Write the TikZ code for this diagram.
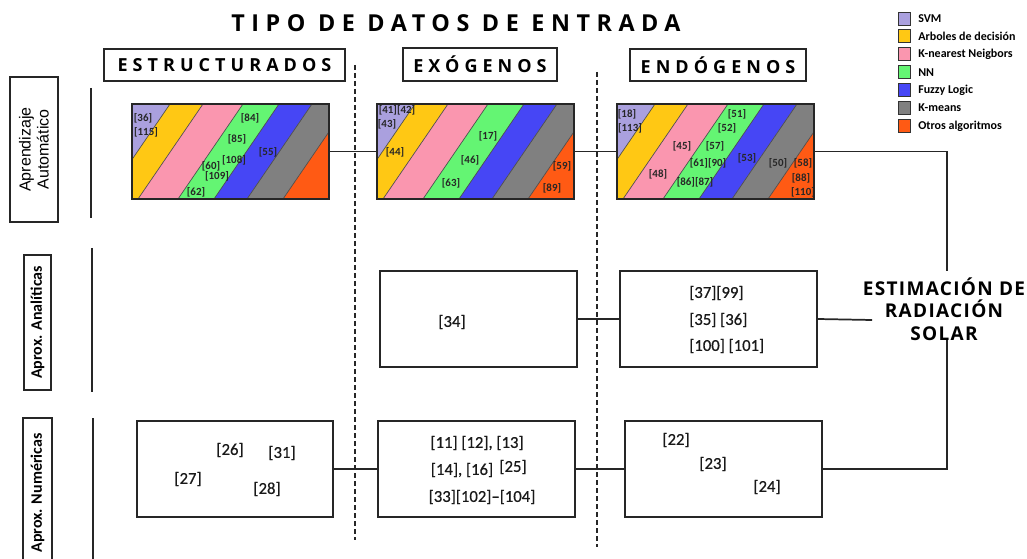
\documentclass[tikz,border=0pt]{standalone}
\usepackage{fontspec}
\setmainfont{Carlito}
\newfontfamily\titfont[LetterSpace=28]{Open Sans}
\newfontfamily\hdfont[LetterSpace=28]{Open Sans}
\newfontfamily\estfont[LetterSpace=7]{Open Sans}
\newfontfamily\arialfont{Liberation Sans}
\newfontfamily\reffont[FakeBold=0.6]{Carlito}
\definecolor{cSVM}{RGB}{170,160,222}
\definecolor{cArb}{RGB}{255,200,20}
\definecolor{cKnn}{RGB}{250,150,175}
\definecolor{cNN}{RGB}{100,245,115}
\definecolor{cFz}{RGB}{70,70,245}
\definecolor{cKm}{RGB}{128,128,128}
\definecolor{cOt}{RGB}{255,90,20}
\tikzset{
 sbox/.style={draw=black!85, line width=1.3pt, rectangle, inner sep=0pt},
 link/.style={draw=black!85, line width=1.3pt},
 dashsep/.style={draw=black!85, line width=1.3pt, dash pattern=on 3.75pt off 2.25pt},
 refx/.style={font=\reffont\fontsize{12.5pt}{14pt}\selectfont, inner sep=0pt, text=black!90},
 sref/.style={font=\bfseries\fontsize{8.2pt}{9pt}\selectfont, inner sep=0pt, text=black!85},
 stripeline/.style={draw=black!70, line width=0.5pt},
 legsq/.style={draw=black!80, line width=0.6pt, minimum width=9pt, minimum height=9.75pt, inner sep=0pt},
 legtx/.style={font=\bfseries\fontsize{9pt}{10pt}\selectfont, anchor=west, inner sep=0pt},
 hdtext/.style={font=\hdfont\bfseries\fontsize{13.5pt}{15pt}\selectfont},
}
\newcommand{\mystripes}[2]{%
 \begin{scope}[shift={(#1,#2)}]
 \clip (0,0) rectangle (197,95);
 \fill[cSVM] (-100,0) -- (38,0) -- (-27,95) -- (-100,95) -- cycle;
 \fill[cArb] (38,0) -- (71,0) -- (6,95) -- (-27,95) -- cycle;
 \fill[cKnn] (71,0) -- (111,0) -- (46,95) -- (6,95) -- cycle;
 \fill[cNN] (111,0) -- (147,0) -- (82,95) -- (46,95) -- cycle;
 \fill[cFz] (147,0) -- (180,0) -- (115,95) -- (82,95) -- cycle;
 \fill[cKm] (180,0) -- (216,0) -- (151,95) -- (115,95) -- cycle;
 \fill[cOt] (216,0) -- (300,0) -- (300,95) -- (151,95) -- cycle;
 \foreach \a in {38,71,111,147,180,216} \draw[stripeline] (\a,0) -- (\a-65,95);
 \end{scope}}
\begin{document}
\begin{tikzpicture}[x=0.75pt,y=-0.75pt]
\useasboundingbox (0,0) rectangle (1027,559);
% title
\node[font=\titfont\bfseries\fontsize{17.5pt}{20pt}\selectfont, inner sep=0pt] (title) at (456,23) {TIPO DE DATOS DE ENTRADA};
% headers
\node[sbox, hdtext, minimum width=180.75pt, minimum height=24pt] (h1) at (224.5,65) {ESTRUCTURADOS};
\node[sbox, hdtext, minimum width=115.5pt, minimum height=24.75pt] (h2) at (480,64.5) {EXÓGENOS};
\node[sbox, hdtext, minimum width=132pt, minimum height=24pt] (h3) at (718,65) {ENDÓGENOS};
% dashed separators
\coordinate (d1a) at (355,65); \coordinate (d1b) at (355,540);
\coordinate (d2a) at (597,72); \coordinate (d2b) at (597,547);
\draw[dashsep] (d1a) -- (d1b);
\draw[dashsep] (d2a) -- (d2b);
% legend
\foreach \c/\t [count=\i] in {cSVM/SVM, cArb/Arboles de decisión, cKnn/K-nearest Neigbors, cNN/NN, cFz/Fuzzy Logic, cKm/K-means, cOt/Otros algoritmos}{
  \node[legsq, fill=\c] (lq\i) at (904,{18.5+(\i-1)*17.9}) {};
  \node[legtx] (lt\i) at (918,{18.5+(\i-1)*17.9}) {\t};
}
% left labels
\node[sbox, rotate=90, minimum width=108.75pt, minimum height=36pt, align=center, font=\arialfont\fontsize{12pt}{13.5pt}\selectfont] (lab1) at (34,149.5) {Aprendizaje\\Automático};
\node[sbox, rotate=90, minimum width=101.25pt, minimum height=20.25pt, font=\bfseries\fontsize{12pt}{14pt}\selectfont] (lab2) at (37.5,322.5) {Aprox. Analíticas};
\node[sbox, rotate=90, minimum width=112.5pt, minimum height=21.75pt, font=\bfseries\fontsize{12pt}{14pt}\selectfont] (lab3) at (37.5,493) {Aprox. Numéricas};
\coordinate (v1a) at (91,88); \coordinate (v1b) at (91,218);
\coordinate (v2a) at (92,248); \coordinate (v2b) at (92,392);
\coordinate (v3a) at (93,418); \coordinate (v3b) at (93,565);
\draw[link] (v1a) -- (v1b);
\draw[link] (v2a) -- (v2b);
\draw[link] (v3a) -- (v3b);
% striped boxes
\mystripes{132}{104}
\mystripes{377}{104}
\mystripes{617}{104}
\node[sbox, minimum width=147.75pt, minimum height=71.25pt] (s1) at (230.5,151.5) {};
\node[sbox, minimum width=147.75pt, minimum height=71.25pt] (s2) at (475.5,151.5) {};
\node[sbox, minimum width=147.75pt, minimum height=71.25pt] (s3) at (715.5,151.5) {};
% box 1 labels
\node[sref] (a1) at (143,118) {[36]};
\node[sref] (a2) at (146,132) {[115]};
\node[sref] (a3) at (250,118) {[84]};
\node[sref] (a4) at (237,139) {[85]};
\node[sref] (a5) at (234,160) {[108]};
\node[sref] (a6) at (211,166) {[60]};
\node[sref] (a7) at (217,176) {[109]};
\node[sref] (a8) at (196,192) {[62]};
\node[sref] (a9) at (268,152) {[55]};
% box 2 labels
\node[sref] (b1) at (397,110) {[41][42]};
\node[sref] (b2) at (387,124) {[43]};
\node[sref] (b3) at (395,152) {[44]};
\node[sref] (b4) at (488,136) {[17]};
\node[sref] (b5) at (470,160) {[46]};
\node[sref] (b6) at (451,183) {[63]};
\node[sref] (b7) at (562,166) {[59]};
\node[sref] (b8) at (552,188) {[89]};
% box 3 labels
\node[sref] (e1) at (627,114) {[18]};
\node[sref] (e2) at (630,128) {[113]};
\node[sref] (e3) at (737,114) {[51]};
\node[sref] (e4) at (727,128) {[52]};
\node[sref] (e5) at (682,146) {[45]};
\node[sref] (e6) at (715,146) {[57]};
\node[sref] (e7) at (708,163) {[61][90]};
\node[sref] (e8) at (658,174) {[48]};
\node[sref] (e9) at (695,182) {[86][87]};
\node[sref] (e10) at (747,158) {[53]};
\node[sref] (e11) at (778,163) {[50]};
\node[sref] (e12) at (803,163) {[58]};
\node[sref] (e13) at (801,178) {[88]};
\node[sref] (e14) at (803,192) {[110]};
% analytic row
\node[sbox, minimum width=147.75pt, minimum height=72pt] (A1) at (478.5,319) {};
\node[sbox, minimum width=147.75pt, minimum height=72pt] (A2) at (718.5,319) {};
\node[refx] (t34) at (452,322) {[34]};
\node[refx, anchor=west] (t37) at (689,293) {[37][99]};
\node[refx, anchor=west] (t35) at (689,320) {[35] [36]};
\node[refx, anchor=west] (t100) at (689,346) {[100] [101]};
% numeric row
\node[sbox, minimum width=147pt, minimum height=72pt] (N1) at (235,469) {};
\node[sbox, minimum width=147.75pt, minimum height=72pt] (N2) at (476.5,469) {};
\node[sbox, minimum width=147.75pt, minimum height=72pt] (N3) at (723.5,469) {};
\node[refx] (t26) at (230,450) {[26]};
\node[refx] (t31) at (282,453) {[31]};
\node[refx] (t27) at (188,479) {[27]};
\node[refx] (t28) at (267,489) {[28]};
\node[refx] (t11) at (477,443) {[11] [12], [13]};
\node[refx] (t14) at (462,470) {[14], [16]};
\node[refx] (t25) at (513,467) {[25]};
\node[refx] (t33) at (482,497) {[33][102]–[104]};
\node[refx] (t22) at (676,440) {[22]};
\node[refx] (t23) at (713,464) {[23]};
\node[refx] (t24) at (767,487) {[24]};
% estimation
\node[font=\estfont\bfseries\fontsize{14.25pt}{16.9pt}\selectfont, align=center, inner sep=0pt] (est) at (944,309) {ESTIMACIÓN DE\\RADIACIÓN\\SOLAR};
% connectors
\coordinate (j1) at (947,151.5); \coordinate (j2) at (947,271);
\coordinate (j3) at (872,320);
\coordinate (j4) at (947,469); \coordinate (j5) at (947,340);
\draw[link] (s1.east) -- (s2.west);
\draw[link] (s2.east) -- (s3.west);
\draw[link] (s3.east) -- (j1) -- (j2);
\draw[link] (A1.east) -- (A2.west);
\draw[link] (A2.east) -- (j3);
\draw[link] (N1.east) -- (N2.west);
\draw[link] (N2.east) -- (N3.west);
\draw[link] (N3.east) -- (j4) -- (j5);
\end{tikzpicture}
\end{document}
